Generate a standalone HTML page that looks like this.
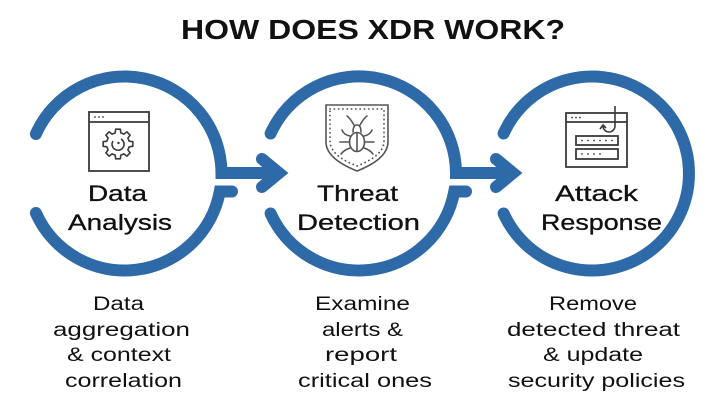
<!DOCTYPE html>
<html><head><meta charset="utf-8"><style>
html,body{margin:0;padding:0;background:#fff;}
svg{display:block;}
.t{font-family:"Liberation Sans",sans-serif;fill:#111;}
</style></head><body>
<svg width="720" height="410" viewBox="0 0 720 410" xmlns="http://www.w3.org/2000/svg">
<rect width="720" height="410" fill="#fff"/>
<text class="t" x="181" y="39" font-size="28" font-weight="bold" textLength="384" lengthAdjust="spacingAndGlyphs">HOW DOES XDR WORK?</text>

<g fill="none" stroke="#2e6aa8" stroke-width="12" stroke-linecap="round" stroke-linejoin="miter">
  <!-- circle 1 -->
  <path d="M35.9 134 A97 97 0 0 1 221.5 173 L275 173"/>
  <path d="M35.9 213 A97 97 0 0 0 219.8 191.5 L232 191.5"/>
  <polyline points="262,159 279,173 262,187"/>
  <!-- circle 2 -->
  <path d="M270.6 133.5 A97 97 0 0 1 456 173 L509 173"/>
  <path d="M270.6 213.5 A97 97 0 0 0 454.3 191.5 L466 191.5"/>
  <polyline points="496,159 513,173 496,187"/>
  <!-- circle 3 -->
  <path d="M503.6 133.5 A97 97 0 1 1 503.6 213.5"/>
</g>

<!-- icon 1 -->
<g fill="none" stroke="#3a3a3a" stroke-width="1.8">
  <rect x="89" y="112" width="60" height="59"/>
  <line x1="89" y1="122" x2="149" y2="122"/>
  <polygon transform="translate(118,144)" stroke-width="1.6" stroke-linejoin="round" points="11.16,-2.78 14.82,-2.35 14.82,2.35 11.16,2.78 9.86,5.92 12.14,8.82 8.82,12.14 5.92,9.86 2.78,11.16 2.35,14.82 -2.35,14.82 -2.78,11.16 -5.92,9.86 -8.82,12.14 -12.14,8.82 -9.86,5.92 -11.16,2.78 -14.82,2.35 -14.82,-2.35 -11.16,-2.78 -9.86,-5.92 -12.14,-8.82 -8.82,-12.14 -5.92,-9.86 -2.78,-11.16 -2.35,-14.82 2.35,-14.82 2.78,-11.16 5.92,-9.86 8.82,-12.14 12.14,-8.82 9.86,-5.92"/>
  <path d="M121 139 A6 6 0 1 1 113 141" stroke-width="1.6"/>
</g>
<g fill="#3a3a3a">
  <circle cx="95" cy="117" r="0.9"/><circle cx="99" cy="117" r="0.9"/><circle cx="103" cy="117" r="0.9"/>
  <circle cx="118.5" cy="143" r="1.2"/>
</g>

<!-- icon 2 -->
<g fill="none" stroke="#555" stroke-width="1.6" stroke-linecap="round">
  <path d="M326 105 L388 105 L388 142 C388 156 372 165 357 171 C342 165 326 156 326 142 Z"/>
  <path d="M330 109 L384 109 L384 141 C384 153 370 161 357 166 C344 161 330 153 330 141 Z" stroke-width="1.8" stroke-dasharray="0.1 4.2"/>
  <ellipse cx="357" cy="142" rx="7.5" ry="9.5"/>
  <path d="M353 132 Q353 125 357 125 Q361 125 361 132"/>
  <line x1="357" y1="133" x2="357" y2="151"/>
  <path d="M354 125 Q350 118 347 116"/><path d="M360 125 Q364 118 367 116"/>
  <path d="M350 136 Q344 135 342 130"/><path d="M349.5 142 L340 142"/><path d="M350 148 Q344 150 341 154"/>
  <path d="M364 136 Q370 135 372 130"/><path d="M364.5 142 L374 142"/><path d="M364 148 Q370 150 373 154"/>
</g>

<!-- icon 3 -->
<g fill="none" stroke="#3a3a3a" stroke-width="1.8">
  <rect x="566" y="113" width="61" height="54"/>
  <line x1="566" y1="122" x2="627" y2="122"/>
  <path d="M615 106 L615 126 A6 6 0 0 1 603 126" stroke-width="1.6"/>
  <polyline points="600,129 603,125 606,128" stroke-width="1.6"/>
  <rect x="576" y="136" width="42" height="9"/>
  <rect x="576" y="149" width="42" height="10"/>
</g>
<g fill="#3a3a3a">
  <circle cx="572" cy="117.5" r="0.9"/><circle cx="576" cy="117.5" r="0.9"/><circle cx="580" cy="117.5" r="0.9"/>
  <circle cx="582" cy="140.5" r="0.9"/><circle cx="588" cy="140.5" r="0.9"/><circle cx="594" cy="140.5" r="0.9"/><circle cx="600" cy="140.5" r="0.9"/><circle cx="606" cy="140.5" r="0.9"/><circle cx="612" cy="140.5" r="0.9"/>
  <circle cx="582" cy="154" r="0.9"/><circle cx="588" cy="154" r="0.9"/><circle cx="594" cy="154" r="0.9"/><circle cx="600" cy="154" r="0.9"/>
</g>

<!-- headings -->
<g class="t" font-size="22" stroke="#111" stroke-width="0.3">
  <text class="t" x="88" y="201" textLength="59" lengthAdjust="spacingAndGlyphs">Data</text>
  <text class="t" x="68" y="230" textLength="104" lengthAdjust="spacingAndGlyphs">Analysis</text>
  <text class="t" x="317" y="201" textLength="81" lengthAdjust="spacingAndGlyphs">Threat</text>
  <text class="t" x="297" y="230" textLength="123" lengthAdjust="spacingAndGlyphs">Detection</text>
  <text class="t" x="555" y="201" textLength="83" lengthAdjust="spacingAndGlyphs">Attack</text>
  <text class="t" x="541" y="230" textLength="121" lengthAdjust="spacingAndGlyphs">Response</text>
</g>

<!-- descriptions -->
<g class="t" font-size="19">
  <text class="t" x="93" y="310" textLength="51" lengthAdjust="spacingAndGlyphs">Data</text>
  <text class="t" x="53" y="336" textLength="137" lengthAdjust="spacingAndGlyphs">aggregation</text>
  <text class="t" x="67" y="361" textLength="104" lengthAdjust="spacingAndGlyphs">&amp; context</text>
  <text class="t" x="65" y="387" textLength="117" lengthAdjust="spacingAndGlyphs">correlation</text>

  <text class="t" x="315" y="310" textLength="95" lengthAdjust="spacingAndGlyphs">Examine</text>
  <text class="t" x="322" y="336" textLength="81" lengthAdjust="spacingAndGlyphs">alerts &amp;</text>
  <text class="t" x="325" y="361" textLength="72" lengthAdjust="spacingAndGlyphs">report</text>
  <text class="t" x="298" y="387" textLength="134" lengthAdjust="spacingAndGlyphs">critical ones</text>

  <text class="t" x="549" y="310" textLength="88" lengthAdjust="spacingAndGlyphs">Remove</text>
  <text class="t" x="507" y="336" textLength="173" lengthAdjust="spacingAndGlyphs">detected threat</text>
  <text class="t" x="543" y="361" textLength="100" lengthAdjust="spacingAndGlyphs">&amp; update</text>
  <text class="t" x="508" y="387" textLength="177" lengthAdjust="spacingAndGlyphs">security policies</text>
</g>
</svg>
</body></html>
